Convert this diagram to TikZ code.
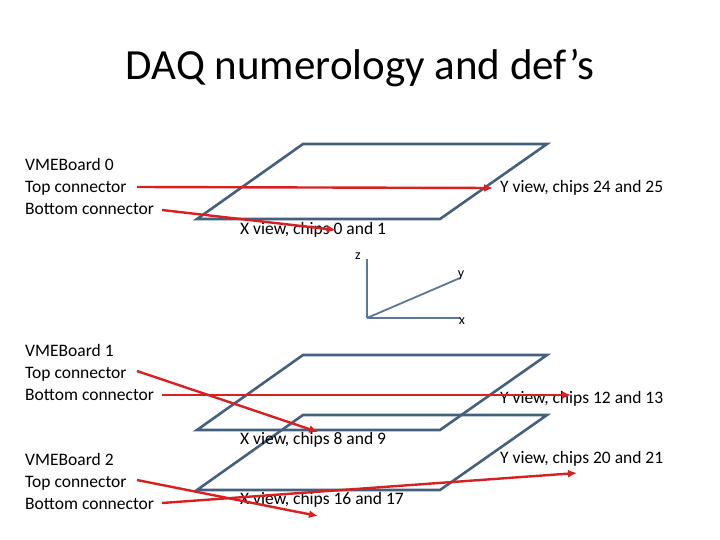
\documentclass[tikz,border=0pt]{standalone}
\usepackage{fontspec}
\usetikzlibrary{arrows.meta}
\setmainfont{Carlito}
\definecolor{pl}{HTML}{44607F}
\definecolor{axc}{HTML}{5A7898}
\definecolor{rc}{HTML}{D91F1F}
\begin{document}
\begin{tikzpicture}[x=1pt,y=-1pt,
  plane/.style={draw=pl,line width=2.6pt,line join=miter},
  conn/.style={draw=rc,line width=2.4pt,-{Latex[length=9pt,width=8pt]}},
  ax/.style={draw=axc,line width=1.8pt},
  lbl/.style={font=\fontsize{17.5}{22}\selectfont,inner sep=0pt,anchor=west,align=left}]
\useasboundingbox (0,0) rectangle (720,540);
\node (title) at (360,68) {\fontsize{43}{50}\selectfont DAQ numerology and def’s};
% planes
\draw[plane] (303,144) -- (547,144) -- (440,219) -- (197,219) -- cycle;
\draw[plane] (303,415) -- (547,415) -- (440,490) -- (197,490) -- cycle;
\draw[plane] (303,355) -- (547,355) -- (440,430) -- (197,430) -- cycle;
% left labels
\node[lbl] (b0) at (25,186) {VMEBoard 0\\Top connector\\Bottom connector};
\node[lbl] (b1) at (25,372) {VMEBoard 1\\Top connector\\Bottom connector};
\node[lbl] (b2) at (25,481) {VMEBoard 2\\Top connector\\Bottom connector};
\coordinate (t0) at (137,187); \coordinate (d0) at (162,210);
\coordinate (t1) at (137,371); \coordinate (d1) at (162,395);
\coordinate (t2) at (137,480); \coordinate (d2) at (162,503);
% right labels
\node[lbl] (y24) at (500,188) {Y view, chips 24 and 25};
\node[lbl] (x0) at (240,230) {X view, chips 0 and 1};
\node[lbl] (y12) at (500,399) {Y view, chips 12 and 13};
\node[lbl] (x8) at (240,440) {X view, chips 8 and 9};
\node[lbl] (y20) at (500,459) {Y view, chips 20 and 21};
\node[lbl] (x16) at (240,500) {X view, chips 16 and 17};
\coordinate (e24) at (493,188); \coordinate (e0) at (336,230);
\coordinate (e12) at (571,395); \coordinate (e8) at (318,432);
\coordinate (e20) at (577,473); \coordinate (e16) at (318,516);
\draw[conn] (t0) -- (e24);
\draw[conn] (d0) -- (e0);
\draw[conn] (d1) -- (e12);
\draw[conn] (t1) -- (e8);
\draw[conn] (d2) -- (e20);
\draw[conn] (t2) -- (e16);
% axes
\coordinate (o) at (367,318);
\coordinate (za) at (367,259);
\coordinate (ya) at (460,278);
\coordinate (xa) at (460,318);
\draw[ax] (o) -- (za); \draw[ax] (o) -- (ya); \draw[ax] (o) -- (xa);
\node[font=\fontsize{14}{16}\selectfont] (zl) at (358,256) {z};
\node[font=\fontsize{14}{16}\selectfont] (yl) at (461,275) {y};
\node[font=\fontsize{14}{16}\selectfont] (xl) at (462,321) {x};
\end{tikzpicture}
\end{document}
